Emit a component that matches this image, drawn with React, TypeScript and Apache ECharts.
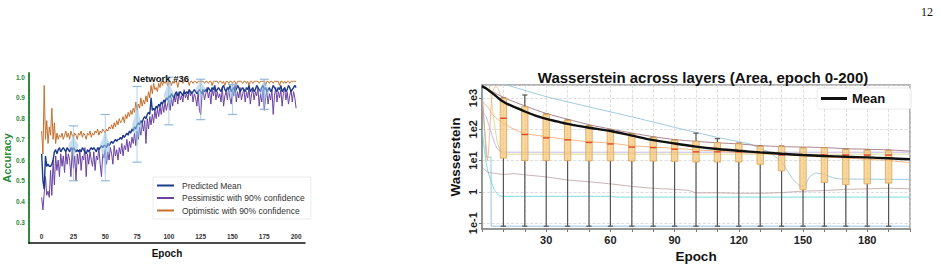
import React, { useEffect, useRef } from "react";
import * as echarts from "echarts";

// ---------- Network #36 accuracy curves (one value per epoch, 0..200) ----------
const predictedMean = [
  0.63, 0.50, 0.46, 0.62, 0.57, 0.58, 0.57, 0.57, 0.58, 0.60,
  0.64, 0.65, 0.63, 0.65, 0.66, 0.64, 0.65, 0.66, 0.65, 0.64,
  0.66, 0.65, 0.64, 0.66, 0.65, 0.66, 0.65, 0.64, 0.65, 0.64,
  0.65, 0.64, 0.66, 0.65, 0.64, 0.63, 0.65, 0.64, 0.65, 0.66,
  0.65, 0.66, 0.65, 0.64, 0.66, 0.65, 0.66, 0.67, 0.66, 0.67,
  0.67, 0.66, 0.68, 0.67, 0.68, 0.69, 0.68, 0.69, 0.70, 0.69,
  0.70, 0.70, 0.71, 0.70, 0.72, 0.71, 0.72, 0.73, 0.72, 0.74,
  0.73, 0.75, 0.74, 0.76, 0.75, 0.77, 0.78, 0.77, 0.79, 0.78,
  0.80, 0.81, 0.80, 0.82, 0.83, 0.82, 0.90, 0.84, 0.85, 0.84,
  0.86, 0.85, 0.87, 0.86, 0.88, 0.87, 0.89, 0.88, 0.90, 0.89,
  0.91, 0.90, 0.92, 0.91, 0.90, 0.92, 0.93, 0.91, 0.92, 0.93,
  0.92, 0.91, 0.93, 0.92, 0.93, 0.92, 0.94, 0.93, 0.92, 0.93,
  0.94, 0.93, 0.92, 0.93, 0.94, 0.93, 0.92, 0.94, 0.93, 0.94,
  0.93, 0.95, 0.94, 0.93, 0.95, 0.94, 0.96, 0.93, 0.94, 0.95,
  0.94, 0.93, 0.95, 0.96, 0.94, 0.93, 0.95, 0.94, 0.96, 0.93,
  0.94, 0.95, 0.93, 0.94, 0.96, 0.95, 0.93, 0.94, 0.95, 0.94,
  0.93, 0.95, 0.94, 0.96, 0.93, 0.94, 0.95, 0.93, 0.94, 0.96,
  0.95, 0.94, 0.93, 0.95, 0.96, 0.94, 0.95, 0.93, 0.94, 0.95,
  0.93, 0.94, 0.96, 0.95, 0.94, 0.93, 0.95, 0.94, 0.96, 0.93,
  0.94, 0.95, 0.93, 0.94, 0.96, 0.95, 0.93, 0.94, 0.95, 0.96,
  0.95,
];

const pessimistic = [
  0.42, 0.36, 0.44, 0.52, 0.43, 0.45, 0.42, 0.55, 0.43, 0.60,
  0.48, 0.62, 0.55, 0.60, 0.52, 0.63, 0.57, 0.62, 0.54, 0.64,
  0.58, 0.63, 0.60, 0.52, 0.65, 0.56, 0.62, 0.50, 0.63, 0.58,
  0.65, 0.55, 0.62, 0.60, 0.66, 0.52, 0.63, 0.58, 0.64, 0.60,
  0.57, 0.64, 0.55, 0.62, 0.60, 0.66, 0.58, 0.52, 0.63, 0.61,
  0.65, 0.58, 0.64, 0.60, 0.66, 0.63, 0.58, 0.67, 0.62, 0.65,
  0.60, 0.66, 0.63, 0.68, 0.62, 0.67, 0.65, 0.70, 0.64, 0.69,
  0.66, 0.71, 0.68, 0.73, 0.67, 0.74, 0.70, 0.76, 0.72, 0.78,
  0.74, 0.79, 0.68, 0.80, 0.75, 0.81, 0.77, 0.82, 0.78, 0.84,
  0.80, 0.85, 0.81, 0.86, 0.82, 0.87, 0.83, 0.88, 0.84, 0.87,
  0.89, 0.84, 0.90, 0.86, 0.91, 0.88, 0.92, 0.87, 0.93, 0.89,
  0.91, 0.88, 0.94, 0.90, 0.92, 0.89, 0.94, 0.91, 0.93, 0.88,
  0.92, 0.90, 0.86, 0.93, 0.84, 0.82, 0.91, 0.94, 0.89, 0.92,
  0.95, 0.90, 0.93, 0.87, 0.94, 0.91, 0.95, 0.89, 0.93, 0.90,
  0.92, 0.88, 0.95, 0.86, 0.91, 0.93, 0.89, 0.95, 0.90, 0.87,
  0.94, 0.91, 0.96, 0.88, 0.93, 0.90, 0.95, 0.89, 0.92, 0.94,
  0.88, 0.93, 0.90, 0.95, 0.87, 0.92, 0.94, 0.89, 0.93, 0.91,
  0.95, 0.86, 0.92, 0.88, 0.94, 0.84, 0.90, 0.93, 0.87, 0.92,
  0.89, 0.94, 0.82, 0.91, 0.95, 0.88, 0.93, 0.90, 0.94, 0.86,
  0.92, 0.95, 0.89, 0.93, 0.87, 0.91, 0.94, 0.88, 0.93, 0.90,
  0.85,
];

const optimistic = [
  0.74, 0.63, 0.96, 0.70, 0.79, 0.68, 0.76, 0.72, 0.85, 0.70,
  0.78, 0.68, 0.73, 0.70, 0.72, 0.71, 0.73, 0.70, 0.72, 0.74,
  0.71, 0.73, 0.70, 0.74, 0.72, 0.71, 0.73, 0.72, 0.70, 0.73,
  0.72, 0.74, 0.71, 0.73, 0.72, 0.70, 0.73, 0.72, 0.74, 0.71,
  0.73, 0.72, 0.74, 0.73, 0.75, 0.72, 0.74, 0.73, 0.75, 0.74,
  0.73, 0.75, 0.74, 0.76, 0.75, 0.77, 0.75, 0.78, 0.76, 0.79,
  0.77, 0.80, 0.78, 0.79, 0.81, 0.78, 0.82, 0.80, 0.83, 0.81,
  0.84, 0.82, 0.85, 0.83, 0.88, 0.84, 0.87, 0.85, 0.90, 0.86,
  0.89, 0.87, 0.91, 0.88, 0.93, 0.90, 0.96, 0.92, 0.97, 0.94,
  0.95, 0.93, 0.97, 0.95, 0.98, 0.96, 0.98, 0.97, 0.98, 0.96,
  0.98, 0.98, 0.96, 0.98, 0.97, 0.98, 0.98, 0.95, 0.98, 0.98,
  0.98, 0.97, 0.98, 0.98, 0.98, 0.98, 0.96, 0.98, 0.98, 0.97,
  0.98, 0.98, 0.97, 0.98, 0.98, 0.98, 0.98, 0.98, 0.97, 0.98,
  0.98, 0.97, 0.98, 0.98, 0.96, 0.98, 0.98, 0.98, 0.98, 0.97,
  0.98, 0.98, 0.97, 0.98, 0.96, 0.98, 0.98, 0.97, 0.98, 0.98,
  0.97, 0.98, 0.98, 0.96, 0.98, 0.98, 0.98, 0.98, 0.97, 0.98,
  0.98, 0.97, 0.98, 0.96, 0.98, 0.98, 0.97, 0.98, 0.98, 0.98,
  0.98, 0.97, 0.98, 0.98, 0.98, 0.98, 0.96, 0.98, 0.98, 0.97,
  0.98, 0.98, 0.97, 0.98, 0.98, 0.98, 0.98, 0.96, 0.98, 0.98,
  0.97, 0.98, 0.97, 0.98, 0.98, 0.97, 0.98, 0.98, 0.98, 0.98,
  0.98,
];

// [epoch, errLow, errHigh, violinLow, violinPeak, violinHigh]
const uncertaintyMarks = [
  [25, 0.5, 0.765, 0.6, 0.67, 0.72],
  [50, 0.5, 0.82, 0.53, 0.67, 0.74],
  [75, 0.59, 0.955, 0.67, 0.76, 0.87],
  [100, 0.77, 1.0, 0.85, 0.91, 0.99],
  [125, 0.795, 0.99, 0.89, 0.94, 0.99],
  [150, 0.82, 0.965, 0.89, 0.93, 0.97],
  [175, 0.845, 0.99, 0.86, 0.93, 0.99],
];

const accTicks = [0, 25, 50, 75, 100, 125, 150, 175, 200];

// ---------- Wasserstein distances across layers ----------
// per-epoch box stats: [epoch, low, q1, median, q3, high]
const wBoxes = [
  [10, 0.08, 12, 225, 1000, 1000],
  [20, 0.08, 10, 68, 525, 1250],
  [30, 0.08, 10, 53, 307, 307],
  [40, 0.08, 10, 46, 198, 198],
  [50, 0.08, 9.8, 38, 130, 130],
  [60, 0.08, 9.8, 34, 95, 95],
  [70, 0.08, 9.6, 27, 71, 71],
  [80, 0.08, 9.6, 26, 55, 55],
  [90, 0.08, 9.4, 23, 46, 46],
  [100, 0.08, 9, 19, 42, 75],
  [110, 0.08, 9, 19, 38, 50],
  [120, 0.08, 9, 19, 36, 36],
  [130, 0.08, 7.6, 18, 29, 29],
  [140, 0.08, 4.7, 15, 29, 29],
  [150, 0.08, 1.2, 15, 26, 26],
  [160, 0.08, 2.0, 15, 26, 26],
  [170, 0.08, 1.7, 15, 23, 23],
  [180, 0.08, 1.8, 15, 22, 22],
  [190, 0.08, 1.9, 15, 21, 21],
];

const wMean = [
  [0, 2400], [2, 2000], [5, 1400], [8, 950], [10, 760], [12, 640], [15, 520],
  [20, 370], [25, 275], [30, 215], [35, 178], [40, 148], [45, 128], [50, 112],
  [60, 88], [70, 63], [80, 45], [90, 35], [100, 28], [110, 23.5], [120, 20.5],
  [130, 18.3], [140, 16.5], [150, 15], [160, 14], [170, 13.2], [180, 12.6],
  [190, 11.8], [200, 11],
];

const layerUpper = [
  [0, 2400], [10, 1050], [20, 560], [30, 320], [40, 210], [50, 140], [60, 102],
  [70, 76], [80, 58], [90, 47], [100, 41], [110, 37], [120, 34], [130, 30],
  [140, 28], [150, 27], [160, 26], [170, 24], [180, 23], [190, 22], [200, 20],
];

const layerSlowDecay = [
  [6, 3400], [30, 1100], [50, 520], [70, 250], [90, 115], [110, 55], [125, 34],
  [130, 24], [134, 19], [140, 9], [145, 2.7], [149, 1.5], [151, 1.6], [153, 3],
  [156, 4], [160, 3.6], [163, 3], [167, 2.6], [200, 2.5],
];

const layerCollapse = [[0, 2000], [2, 13], [4.2, 13], [4.3, 0.08], [200, 0.08]];

const layerCyan = [
  [0, 100], [1, 25], [2, 8], [3, 4], [4, 2.4], [5, 1.6], [6, 1.1], [8, 0.76],
  [10, 0.72], [60, 0.72], [63, 0.68], [200, 0.68],
];

const layerLowBrown = [
  [0, 6], [3, 4.2], [6, 3.9], [10, 3.6], [15, 3.8], [20, 3.5], [30, 3],
  [40, 2.4], [50, 2.1], [60, 1.8], [70, 1.5], [80, 1.3], [90, 1.2], [97, 1.1],
  [100, 0.93], [110, 0.93], [120, 0.9], [130, 0.9], [140, 0.95], [150, 1.05],
  [160, 1.1], [170, 1.2], [180, 1.25], [190, 1.3], [200, 1.25],
];

const layerOrange = [
  [0, 800], [3, 480], [5, 290], [10, 155], [15, 100], [20, 74], [30, 58],
  [40, 47], [50, 40], [60, 36], [70, 30], [80, 27], [90, 24.5], [100, 22],
  [110, 20], [120, 18], [130, 17], [140, 15.5], [150, 14], [160, 13], [170, 12],
  [180, 11], [190, 10], [200, 8.5],
];

const layerSpike = [
  [0, 900], [1, 150], [2, 25], [2.5, 10], [3.5, 60], [4.5, 900], [5.5, 2000],
  [6.5, 2300], [7.5, 2000], [8.5, 1300], [10, 1000],
];

const layerYellow = [
  [3, 3500], [4, 1500], [5, 400], [6, 120], [7, 45], [8, 25], [9, 18], [10, 16],
  [200, 16],
];

const layerLavender = [
  [0, 700], [1, 300], [2, 250], [3, 150], [4, 90], [5, 55], [6, 35], [7, 25],
  [8, 21], [10, 18.5], [200, 18.5],
];

const logLabels: Record<number, string> = { 3: "1e3", 2: "1e2", 1: "1e1", 0: "1", [-1]: "1e-1" };

const SANS = "Liberation Sans, Arial, Helvetica, sans-serif";

export default function App() {
  const ref = useRef<HTMLDivElement>(null);

  useEffect(() => {
    if (!ref.current) return;
    const chart = echarts.init(ref.current, undefined, { renderer: "svg" });

    const thin = (name: string, data: number[][], color: string, smooth: number | boolean, opacity = 0.75) => ({
      name,
      type: "line",
      xAxisIndex: 1,
      yAxisIndex: 1,
      data,
      symbol: "none",
      smooth,
      silent: true,
      z: 2,
      lineStyle: { color, width: 1, opacity },
    });

    const option: any = {
      animation: false,
      backgroundColor: "#ffffff",
      textStyle: { fontFamily: SANS },
      title: [
        {
          text: "Network #36",
          left: 156,
          top: 68,
          textAlign: "center",
          textStyle: { fontSize: 9.5, fontWeight: "bold", color: "#111", fontFamily: SANS },
        },
        {
          text: "Wasserstein across layers (Area, epoch 0-200)",
          left: 698,
          top: 65,
          textAlign: "center",
          textStyle: { fontSize: 15, fontWeight: "bold", color: "#111", fontFamily: SANS },
        },
      ],
      legend: [
        {
          data: ["Predicted Mean", "Pessimistic with 90% confidence", "Optimistic with 90% confidence"],
          orient: "vertical",
          left: 153,
          top: 177,
          icon: "rect",
          itemWidth: 17,
          itemHeight: 2,
          itemGap: 3.5,
          padding: [4, 6, 4, 4],
          backgroundColor: "#ffffff",
          borderColor: "#e6e6e6",
          borderWidth: 0.8,
          textStyle: { fontSize: 8.5, color: "#333", fontFamily: SANS, padding: [0, 0, 0, 3] },
        },
        {
          data: ["Mean"],
          left: 817,
          top: 88,
          icon: "rect",
          itemWidth: 26,
          itemHeight: 3,
          padding: [4, 26, 4, 4],
          backgroundColor: "rgba(255,255,255,0.9)",
          borderColor: "#e6e6e6",
          borderWidth: 0.8,
          borderRadius: 3,
          textStyle: { fontSize: 13, fontWeight: "bold", color: "#111", fontFamily: SANS },
        },
      ],
      grid: [
        { left: 27, top: 73, width: 278, height: 170 },
        {
          left: 482,
          top: 85,
          width: 428,
          height: 144,
          show: true,
          borderColor: "#9a9a9a",
          borderWidth: 1.5,
        },
      ],
      xAxis: [
        {
          gridIndex: 0,
          type: "value",
          min: -10,
          max: 207,
          name: "Epoch",
          nameLocation: "middle",
          nameGap: 4,
          nameTextStyle: { fontSize: 10, fontWeight: "bold", color: "#111", verticalAlign: "top" },
          axisLine: { show: true, onZero: false, lineStyle: { color: "#111", width: 1.5 } },
          axisTick: { show: false },
          splitLine: { show: false },
          axisLabel: {
            customValues: accTicks,
            inside: true,
            margin: 3,
            fontSize: 6.5,
            fontWeight: "bold",
            color: "#333",
          },
        },
        {
          gridIndex: 1,
          type: "value",
          min: 0,
          max: 200,
          interval: 10,
          name: "Epoch",
          nameLocation: "middle",
          nameGap: 16,
          nameTextStyle: { fontSize: 13.5, fontWeight: "bold", color: "#111", verticalAlign: "top" },
          axisLine: { show: true, onZero: false, lineStyle: { color: "#8a8a8a", width: 1.5 } },
          axisTick: { show: true, length: 3, lineStyle: { color: "#777" } },
          splitLine: { show: true, lineStyle: { color: "#d6d6d6", type: "dashed", width: 0.8 } },
          axisLabel: {
            margin: 5,
            fontSize: 11,
            fontWeight: "bold",
            color: "#222",
            formatter: (v: number) => (v > 0 && v < 200 && v % 30 === 0 ? String(v) : ""),
          },
        },
      ],
      yAxis: [
        {
          gridIndex: 0,
          type: "value",
          min: 0.2,
          max: 1.02,
          interval: 0.1,
          name: "Accuracy",
          nameLocation: "middle",
          nameGap: 9,
          nameTextStyle: { fontSize: 11, fontWeight: "bold", color: "#2e8b3a" },
          axisLine: { show: true, onZero: false, lineStyle: { color: "#2e8b3a", width: 2 } },
          axisTick: { show: false },
          splitLine: { show: false },
          axisLabel: {
            showMinLabel: false,
            showMaxLabel: false,
            margin: 4,
            fontSize: 6.5,
            fontWeight: "bold",
            color: "#2e8b3a",
            formatter: (v: number) => (v > 0.25 && v < 1.01 ? v.toFixed(1) : ""),
          },
        },
        {
          gridIndex: 1,
          type: "log",
          logBase: 10,
          min: 0.065,
          max: 2600,
          name: "Wasserstein",
          nameLocation: "middle",
          nameGap: 20,
          nameTextStyle: { fontSize: 13.5, fontWeight: "bold", color: "#111" },
          axisLine: { show: true, onZero: false, lineStyle: { color: "#8a8a8a", width: 1.5 } },
          axisTick: { show: true, length: 3, lineStyle: { color: "#777" } },
          minorTick: { show: false },
          splitLine: { show: true, lineStyle: { color: "#d6d6d6", type: "dashed", width: 0.8 } },
          axisLabel: {
            showMinLabel: false,
            showMaxLabel: false,
            rotate: 90,
            margin: 4,
            fontSize: 11,
            fontWeight: "bold",
            color: "#222",
            formatter: (v: number) => {
              const e = Math.log10(v);
              const r = Math.round(e);
              return Math.abs(e - r) < 1e-6 && logLabels[r] !== undefined ? logLabels[r] : "";
            },
          },
        },
      ],
      series: [
        // ---- accuracy chart ----
        {
          name: "Optimistic with 90% confidence",
          type: "line",
          xAxisIndex: 0,
          yAxisIndex: 0,
          data: optimistic.map((v, i) => [i, v]),
          symbol: "none",
          lineStyle: { color: "#c56f2c", width: 1 },
          itemStyle: { color: "#c56f2c" },
          z: 3,
        },
        {
          name: "Pessimistic with 90% confidence",
          type: "line",
          xAxisIndex: 0,
          yAxisIndex: 0,
          data: pessimistic.map((v, i) => [i, v]),
          symbol: "none",
          lineStyle: { color: "#6a42a4", width: 1 },
          itemStyle: { color: "#6a42a4" },
          z: 3,
        },
        {
          name: "Predicted Mean",
          type: "line",
          xAxisIndex: 0,
          yAxisIndex: 0,
          data: predictedMean.map((v, i) => [i, v]),
          symbol: "none",
          lineStyle: { color: "#1c3a8a", width: 1.4 },
          itemStyle: { color: "#1c3a8a" },
          z: 4,
        },
        {
          type: "custom",
          xAxisIndex: 0,
          yAxisIndex: 0,
          data: uncertaintyMarks,
          encode: { x: 0, y: [1, 2] },
          silent: true,
          z: 5,
          renderItem: (_p: any, api: any) => {
            const ep = api.value(0);
            const lo = api.coord([ep, api.value(1)]);
            const hi = api.coord([ep, api.value(2)]);
            const vLo = api.coord([ep, api.value(3)]);
            const vPk = api.coord([ep, api.value(4)]);
            const vHi = api.coord([ep, api.value(5)]);
            const cap = 4.5;
            const w = 5;
            const stroke = "#8fb8da";
            return {
              type: "group",
              children: [
                {
                  type: "polygon",
                  shape: {
                    points: [
                      [vLo[0], vLo[1]],
                      [vPk[0] - w * 0.35, (vLo[1] + vPk[1]) / 2],
                      [vPk[0] - w, vPk[1]],
                      [vPk[0] - w * 0.45, (vPk[1] + vHi[1]) / 2],
                      [vHi[0], vHi[1]],
                      [vPk[0] + w * 0.45, (vPk[1] + vHi[1]) / 2],
                      [vPk[0] + w, vPk[1]],
                      [vPk[0] + w * 0.35, (vLo[1] + vPk[1]) / 2],
                    ],
                    smooth: 0.4,
                  },
                  style: { fill: "rgba(150,195,228,0.55)", stroke: "none" },
                },
                { type: "line", shape: { x1: lo[0], y1: lo[1], x2: hi[0], y2: hi[1] }, style: { stroke, lineWidth: 0.8, opacity: 0.8 } },
                { type: "line", shape: { x1: lo[0] - cap, y1: lo[1], x2: lo[0] + cap, y2: lo[1] }, style: { stroke, lineWidth: 1.2 } },
                { type: "line", shape: { x1: hi[0] - cap, y1: hi[1], x2: hi[0] + cap, y2: hi[1] }, style: { stroke, lineWidth: 1.2 } },
              ],
            };
          },
        },
        // ---- Wasserstein chart ----
        thin("collapse", layerCollapse, "#7fb2d6", false, 0.8),
        thin("cyan", layerCyan, "#5fd0d4", 0.2, 0.8),
        thin("lowBrown", layerLowBrown, "#b99595", 0.2, 0.75),
        thin("slowDecay", layerSlowDecay, "#8ec2da", 0.15, 0.85),
        thin("yellow", layerYellow, "#d5d48a", 0.2, 0.85),
        thin("lavender", layerLavender, "#b8a8e2", 0.2, 0.8),
        thin("orange", layerOrange, "#f5a564", 0.3, 0.8),
        thin("spike", layerSpike, "#f2a46c", 0.3, 0.75),
        thin("upper", layerUpper, "#a0707e", 0.3, 0.85),
        {
          type: "custom",
          xAxisIndex: 1,
          yAxisIndex: 1,
          data: wBoxes,
          encode: { x: 0, y: [1, 2, 3, 4, 5] },
          silent: true,
          z: 4,
          renderItem: (_p: any, api: any) => {
            const ep = api.value(0);
            const low = api.coord([ep, api.value(1)]);
            const q1 = api.coord([ep, api.value(2)]);
            const med = api.coord([ep, api.value(3)]);
            const q3 = api.coord([ep, api.value(4)]);
            const high = api.coord([ep, api.value(5)]);
            const hw = 3.2;
            const cap = 2.6;
            const ws = { stroke: "#555", lineWidth: 1.2 };
            return {
              type: "group",
              children: [
                { type: "line", shape: { x1: low[0], y1: low[1], x2: q1[0], y2: q1[1] }, style: ws },
                { type: "line", shape: { x1: q3[0], y1: q3[1], x2: high[0], y2: high[1] }, style: ws },
                { type: "line", shape: { x1: low[0] - cap, y1: low[1], x2: low[0] + cap, y2: low[1] }, style: ws },
                { type: "line", shape: { x1: high[0] - cap, y1: high[1], x2: high[0] + cap, y2: high[1] }, style: ws },
                {
                  type: "rect",
                  shape: { x: q3[0] - hw, y: q3[1], width: hw * 2, height: q1[1] - q3[1] },
                  style: { fill: "rgba(247,196,112,0.7)", stroke: "#d9a256", lineWidth: 0.8 },
                },
                {
                  type: "line",
                  shape: { x1: med[0] - hw, y1: med[1], x2: med[0] + hw, y2: med[1] },
                  style: { stroke: "#e4412a", lineWidth: 1.4 },
                },
              ],
            };
          },
        },
        {
          name: "Mean",
          type: "line",
          xAxisIndex: 1,
          yAxisIndex: 1,
          data: wMean,
          symbol: "none",
          smooth: 0.3,
          z: 6,
          lineStyle: { color: "#111", width: 2.4 },
          itemStyle: { color: "#111" },
        },
      ],
      graphic: [
        {
          type: "text",
          left: 921,
          top: 6,
          style: { text: "12", font: "12px 'Liberation Serif', 'Times New Roman', serif", fill: "#111" },
        },
      ],
    };

    chart.setOption(option);
    return () => chart.dispose();
  }, []);

  return (
    <div
      ref={ref}
      style={{ position: "fixed", left: 0, top: 0, width: 941, height: 274, background: "#fff" }}
    />
  );
}
